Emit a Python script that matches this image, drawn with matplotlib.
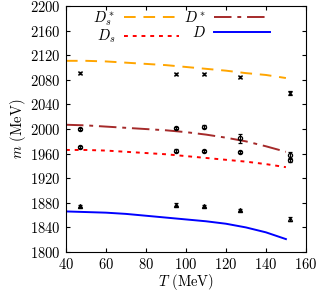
import matplotlib
matplotlib.use("Agg")
import matplotlib.pyplot as plt

plt.rcParams["font.family"] = "serif"
plt.rcParams["font.serif"] = ["cmr10", "DejaVu Serif"]
plt.rcParams["mathtext.fontset"] = "cm"
plt.rcParams["axes.formatter.use_mathtext"] = True

# --- model curves ---------------------------------------------------------
T_curve = [40, 50, 60, 70, 80, 90, 100, 110, 120, 130, 140, 150]
Dss_curve = [2111, 2111, 2110, 2108, 2106, 2104, 2101, 2098, 2095, 2091, 2088, 2083]
Dst_curve = [2007, 2006, 2004, 2002, 2000, 1998, 1995, 1991, 1986, 1980, 1972, 1963]
Ds_curve = [1966, 1966, 1965, 1963, 1961, 1959, 1956, 1953, 1950, 1947, 1943, 1938]
D_curve = [1866, 1865, 1864, 1862, 1859, 1856, 1853, 1850, 1846, 1840, 1832, 1821]

# --- lattice points -------------------------------------------------------
T_pts = [47, 95, 109, 127, 152]
Dss_pts = [2091, 2090, 2090, 2085, 2059]
Dss_err = [2, 2, 2, 2, 3]
Dst_pts = [2000, 2002, 2004, 1985, 1957]
Dst_err = [2, 2, 2, 7, 5]
Ds_pts = [1971, 1965, 1964, 1963, 1950]
Ds_err = [2, 2, 2, 2, 3]
D_pts = [1875, 1877, 1875, 1868, 1854]
D_err = [2, 2, 2, 2, 3]

fig = plt.figure(figsize=(3.17, 2.91), dpi=100)
ax = fig.add_axes([0.208, 0.134, 0.757, 0.845])

l_dss, = ax.plot(T_curve, Dss_curve, color="#ffa500", lw=1.4, ls=(0, (6, 4)))
l_dst, = ax.plot(T_curve, Dst_curve, color="#a52a2a", lw=1.4, ls=(0, (9, 3, 2, 3)))
l_ds, = ax.plot(T_curve, Ds_curve, color="red", lw=1.4, ls=(0, (2, 2.5)))
l_d, = ax.plot(T_curve, D_curve, color="blue", lw=1.4, ls="-")

for y, e, m in [(Dss_pts, Dss_err, "x"), (Dst_pts, Dst_err, "o"),
                (Ds_pts, Ds_err, "o"), (D_pts, D_err, "^")]:
    ax.errorbar(T_pts, y, yerr=e, fmt=m, ms=3, mfc="none", mec="black", mew=0.9,
                ecolor="black", elinewidth=0.9, capsize=1.5, capthick=0.9)

ax.set_xlim(40, 160)
ax.set_ylim(1800, 2200)
ax.set_xticks(range(40, 161, 20))
ax.set_yticks(range(1800, 2201, 40))
ax.tick_params(direction="in", top=True, right=True, labelsize=10.5, length=3)
ax.set_xlabel("$T$ (MeV)", fontsize=10.5, labelpad=0)
ax.set_ylabel("$m$ (MeV)", fontsize=10.5, labelpad=2)

# column-major fill: first column D_s*, D_s ; second column D*, D
ax.legend([l_dss, l_ds, l_dst, l_d], ["$D_s^*$", "$D_s$", "$D^*$", "$D$"],
          ncol=2, loc="upper left", frameon=False, markerfirst=False,
          fontsize=10.5, handlelength=3.8, columnspacing=0.3,
          handletextpad=0.6, labelspacing=0.0, borderaxespad=0.0,
          borderpad=0.2, bbox_to_anchor=(0.1, 1.0))

fig.savefig("out.png", dpi=100)
